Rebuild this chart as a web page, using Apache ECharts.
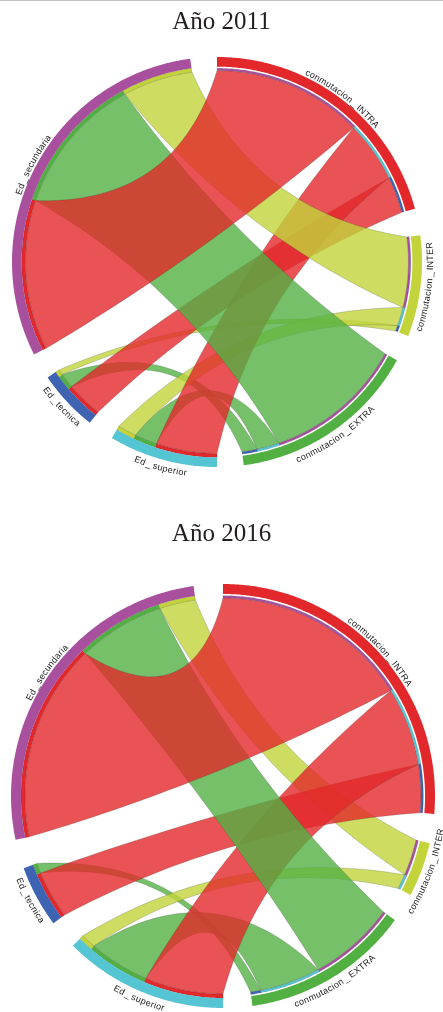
<!DOCTYPE html>
<html>
<head>
<meta charset="utf-8">
<script src="https://cdn.jsdelivr.net/npm/echarts@6.0.0/dist/echarts.min.js"></script>
<style>
  html, body { margin: 0; padding: 0; background: #fff; }
  #main { width: 443px; height: 1012px; }
</style>
</head>
<body>
<div id="main"></div>
<script>
// commute types and education levels
var commNames = ['conmutacion_INTRA', 'conmutacion_INTER', 'conmutacion_EXTRA'];
var eduNames = ['Ed_secundaria', 'Ed_superior', 'Ed_tecnica'];
var years = ['Año 2011', 'Año 2016'];

// share of workers (%) by education level, each array is [INTRA, INTER, EXTRA]
var sec2011 = [28.9, 13.5, 27.0];
var sup2011 = [11.7, 3.6, 4.3];
var tec2011 = [7.0, 1.1, 2.9];
var sec2016 = [37.1, 6.8, 16.3];
var sup2016 = [14.7, 2.8, 11.4];
var tec2016 = [9.0, 0, 1.9];

var colors = {
  conmutacion_INTRA: '#E3282B',
  conmutacion_INTER: '#C2D43A',
  conmutacion_EXTRA: '#52B043',
  Ed_secundaria: '#A8509E',
  Ed_superior: '#55C4D3',
  Ed_tecnica: '#3D63B2'
};

// clockwise from 12 o'clock
var circleOrder = ['conmutacion_INTRA', 'conmutacion_INTER', 'conmutacion_EXTRA', 'Ed_superior', 'Ed_tecnica', 'Ed_secundaria'];
var eduLinkOrder = [0, 2, 1]; // INTRA, EXTRA, INTER inside an education sector

var R_LINK = 93.4, R_TRACK_C = 94.5, R_RING_IN = 95.3, R_RING_OUT = 100;
var LABEL_SIZE = 9;
var BEND = 0.45;

var measureCtx = document.createElement('canvas').getContext('2d');
measureCtx.font = LABEL_SIZE + 'px "Liberation Sans"';

function buildMarks(flows, gap) {
  var total = 0;
  eduNames.forEach(function (e) { flows[e].forEach(function (v) { total += v; }); });
  var unit = (360 - circleOrder.length * gap) / (2 * total);
  var start = {}, end = {}, cur = {};
  var a = 0;
  circleOrder.forEach(function (name) {
    var size = 0;
    var ci = commNames.indexOf(name);
    if (ci >= 0) eduNames.forEach(function (e) { size += flows[e][ci]; });
    else flows[name].forEach(function (v) { size += v; });
    start[name] = a;
    end[name] = a + size * unit;
    cur[name] = a;
    a = end[name] + gap;
  });

  var links = [];
  var seg = {};
  commNames.forEach(function (c, ci) {
    eduNames.forEach(function (e) {
      var w = flows[e][ci] * unit;
      seg[e + '|' + c] = { src: e, tgt: c, value: flows[e][ci], t: [cur[c], cur[c] + w] };
      cur[c] += w;
    });
  });
  eduNames.forEach(function (e) {
    eduLinkOrder.forEach(function (ci) {
      var c = commNames[ci];
      var w = flows[e][ci] * unit;
      seg[e + '|' + c].s = [cur[e], cur[e] + w];
      cur[e] += w;
      links.push(seg[e + '|' + c]);
    });
  });

  var marks = [];
  // biggest flows drawn last, on top
  links.filter(function (l) { return l.value > 0; })
    .sort(function (x, y) { return x.value - y.value; })
    .forEach(function (l) {
      marks.push({ kind: 'ribbon', s: l.s, t: l.t, color: colors[l.tgt], mid: l.s[0] });
    });
  links.filter(function (l) { return l.value > 0; }).forEach(function (l) {
    marks.push({ kind: 'band', a0: l.s[0], a1: l.s[1], r0: R_LINK, r1: R_RING_IN, color: colors[l.tgt], mid: l.s[0], edge: true });
    marks.push({ kind: 'band', a0: l.t[0], a1: l.t[1], r0: R_LINK, r1: R_TRACK_C, color: colors[l.src], mid: l.t[0], edge: true });
  });
  circleOrder.forEach(function (name) {
    marks.push({ kind: 'band', a0: start[name], a1: end[name], r0: R_RING_IN, r1: R_RING_OUT, color: colors[name], mid: start[name] });
  });
  circleOrder.forEach(function (name) {
    marks.push({ kind: 'label', text: name, mid: (start[name] + end[name]) / 2 });
  });
  return marks;
}

var charts = [
  buildMarks({ Ed_secundaria: sec2011, Ed_superior: sup2011, Ed_tecnica: tec2011 }, 7.5),
  buildMarks({ Ed_secundaria: sec2016, Ed_superior: sup2016, Ed_tecnica: tec2016 }, 8)
];

function arcPts(api, r, a0, a1) {
  var n = Math.max(2, Math.ceil(Math.abs(a1 - a0) / 0.5));
  var pts = [];
  for (var i = 0; i <= n; i++) pts.push(api.coord([r, a0 + (a1 - a0) * i / n]));
  return pts;
}

function curvePts(c, p, q) {
  var m = [(p[0] + q[0]) / 2, (p[1] + q[1]) / 2];
  var k = [c[0] + BEND * (m[0] - c[0]), c[1] + BEND * (m[1] - c[1])];
  var pts = [];
  for (var i = 1; i < 40; i++) {
    var t = i / 40, u = 1 - t;
    pts.push([u * u * p[0] + 2 * u * t * k[0] + t * t * q[0], u * u * p[1] + 2 * u * t * k[1] + t * t * q[1]]);
  }
  return pts;
}

function makeRender(idx) {
  return function (params, api) {
    var m = charts[idx][params.dataIndex];
    var c = api.coord([0, 0]);
    if (m.kind === 'band') {
      var pts = arcPts(api, m.r1, m.a0, m.a1).concat(arcPts(api, m.r0, m.a1, m.a0));
      return {
        type: 'polygon', shape: { points: pts },
        style: { fill: m.color, stroke: m.edge ? 'rgba(40,40,40,0.35)' : null, lineWidth: 0.4 }
      };
    }
    if (m.kind === 'ribbon') {
      var sArc = arcPts(api, R_LINK, m.s[0], m.s[1]);
      var tArc = arcPts(api, R_LINK, m.t[0], m.t[1]);
      var pts2 = sArc
        .concat(curvePts(c, sArc[sArc.length - 1], tArc[0]))
        .concat(tArc)
        .concat(curvePts(c, tArc[tArc.length - 1], sArc[0]));
      return {
        type: 'polygon',
        shape: { points: pts2 },
        style: { fill: m.color, opacity: 0.8, stroke: 'rgba(60,60,60,0.55)', lineWidth: 0.5 }
      };
    }
    // label bent along the circle; lower half is turned to stay readable
    var flip = Math.sin((90 - m.mid) * Math.PI / 180) < 0;
    var rOut = api.coord([R_RING_OUT, 0]);
    var rPxOut = c[1] - rOut[1];
    var rUnits = R_RING_OUT + (flip ? 8.5 : 4.5) / rPxOut * 100;
    var rPx = rPxOut * rUnits / 100;
    var chars = m.text.split('');
    var widths = chars.map(function (ch) {
      return measureCtx.measureText(ch).width + (ch === '_' ? 3 : 0.3);
    });
    var total = widths.reduce(function (s, w) { return s + w; }, 0);
    var cum = 0;
    var children = chars.map(function (ch, i) {
      var off = (cum + widths[i] / 2 - total / 2) / rPx * 180 / Math.PI;
      cum += widths[i];
      var a = flip ? m.mid - off : m.mid + off;
      var p = api.coord([rUnits, a]);
      var rot = flip ? (180 - a) * Math.PI / 180 : -a * Math.PI / 180;
      return {
        type: 'text', x: p[0], y: p[1], rotation: rot,
        style: {
          text: ch, fontSize: LABEL_SIZE, fontFamily: 'Liberation Sans',
          fill: '#1a1a1a', align: 'center', verticalAlign: 'middle'
        }
      };
    });
    return { type: 'group', children: children };
  };
}

var chartDom = document.getElementById('main');
var myChart = echarts.init(chartDom, null, { renderer: 'canvas' });

var titleStyle = { fontFamily: 'Liberation Serif', fontSize: 25, fontWeight: 'normal', color: '#231f20' };

var option = {
  backgroundColor: '#fff',
  animation: false,
  title: [
    { text: years[0], left: 'center', top: 10, padding: 0, textStyle: titleStyle },
    { text: years[1], left: 'center', top: 522, padding: 0, textStyle: titleStyle }
  ],
  graphic: [
    { type: 'line', shape: { x1: 0, y1: 0.5, x2: 443, y2: 0.5 }, style: { stroke: '#c4c4c4', lineWidth: 1 } }
  ],
  polar: [
    { center: [217, 262], radius: 205 },
    { center: [223, 796], radius: 212 }
  ],
  angleAxis: [0, 1].map(function (i) {
    return {
      polarIndex: i, type: 'value', min: 0, max: 360, startAngle: 90, clockwise: true,
      axisLine: { show: false }, axisTick: { show: false }, axisLabel: { show: false }, splitLine: { show: false }
    };
  }),
  radiusAxis: [0, 1].map(function (i) {
    return {
      polarIndex: i, type: 'value', min: 0, max: 100,
      axisLine: { show: false }, axisTick: { show: false }, axisLabel: { show: false }, splitLine: { show: false }
    };
  }),
  series: [0, 1].map(function (i) {
    return {
      type: 'custom',
      coordinateSystem: 'polar',
      polarIndex: i,
      silent: true,
      renderItem: makeRender(i),
      data: charts[i].map(function (m) { return [50, m.mid]; })
    };
  })
};

myChart.setOption(option);
window.addEventListener('resize', myChart.resize);
</script>
</body>
</html>
